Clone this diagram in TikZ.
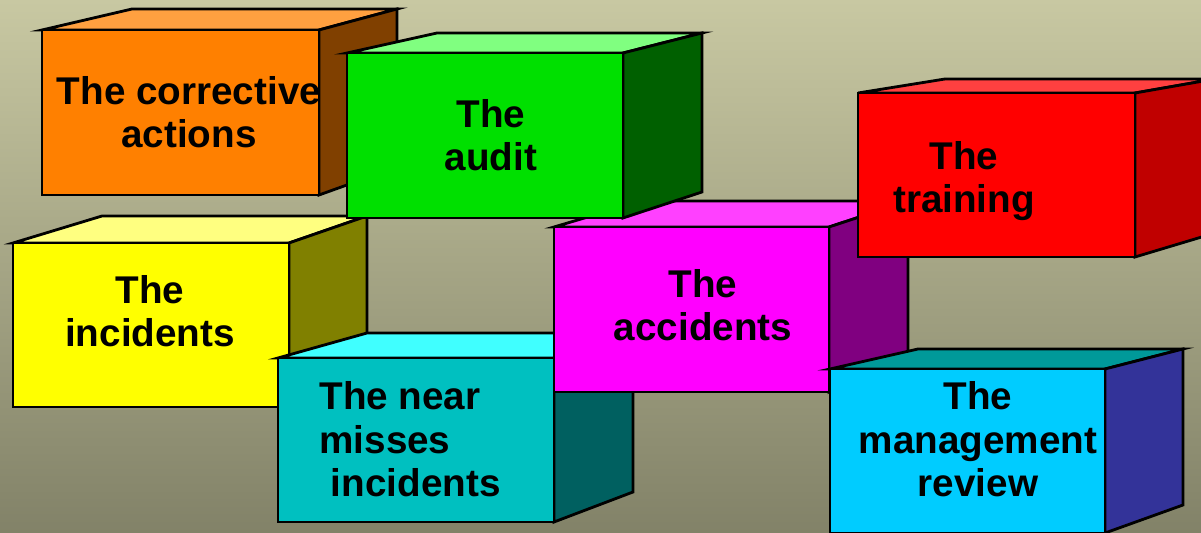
\documentclass[tikz,border=0pt]{standalone}
\usepackage{fontspec}
\setmainfont{Liberation Sans}
\definecolor{bgtop}{RGB}{200,200,162}
\definecolor{bgbot}{RGB}{130,130,104}
\definecolor{orngfront}{RGB}{255,128,0}
\definecolor{orngtop}{RGB}{255,160,64}
\definecolor{orngside}{RGB}{128,64,0}
\definecolor{grnfront}{RGB}{0,224,0}
\definecolor{grntop}{RGB}{128,255,128}
\definecolor{grnside}{RGB}{0,96,0}
\definecolor{redfront}{RGB}{255,0,0}
\definecolor{redtop}{RGB}{255,64,64}
\definecolor{redside}{RGB}{192,0,0}
\definecolor{ylwfront}{RGB}{255,255,0}
\definecolor{ylwtop}{RGB}{255,255,128}
\definecolor{ylwside}{RGB}{128,128,0}
\definecolor{cyfront}{RGB}{0,192,192}
\definecolor{cytop}{RGB}{64,255,255}
\definecolor{cyside}{RGB}{0,96,96}
\definecolor{magfront}{RGB}{255,0,255}
\definecolor{magtop}{RGB}{255,64,255}
\definecolor{magside}{RGB}{128,0,128}
\definecolor{skyfront}{RGB}{0,204,255}
\definecolor{skytop}{RGB}{0,153,153}
\definecolor{skyside}{RGB}{51,51,153}
\begin{document}
\begin{tikzpicture}[
    x=0.02cm, y=-0.02cm,
    face/.style={draw=black, line width=1.6pt},
    lbl/.style={font=\fontsize{22}{25}\selectfont\bfseries, align=center, anchor=base, inner sep=0pt},
]
\useasboundingbox (0,0) rectangle (1201,533);
\clip (0,0) rectangle (1201,533);
\shade[top color=bgtop, bottom color=bgbot] (0,0) rectangle (1201,533);
% corrective actions
\filldraw[face, fill=orngtop] (42,30) -- (132,9) -- (397,9) -- (319,30) -- cycle;
\filldraw[face, fill=orngside] (319,30) -- (397,9) -- (397,167) -- (319,195) -- cycle;
\filldraw[face, fill=orngfront] (42,30) rectangle (319,195);
\node[lbl] (corr) at (189,148) {The corrective\\actions};
% incidents
\filldraw[face, fill=ylwtop] (13,243) -- (102,216) -- (367,216) -- (289,243) -- cycle;
\filldraw[face, fill=ylwside] (289,243) -- (367,216) -- (367,383) -- (289,407) -- cycle;
\filldraw[face, fill=ylwfront] (13,243) rectangle (289,407);
\node[lbl] (incid) at (150,347) {The\\incidents};
% near misses
\filldraw[face, fill=cytop] (278,358) -- (367,333) -- (633,333) -- (554,358) -- cycle;
\filldraw[face, fill=cyside] (554,358) -- (633,333) -- (633,492) -- (554,522) -- cycle;
\filldraw[face, fill=cyfront] (278,358) rectangle (554,522);
\node[lbl, align=left] (near) at (410,497) {The near\\misses\\\hspace*{0.23cm}incidents};
% accidents
\filldraw[face, fill=magtop] (554,227) -- (642,201) -- (908,201) -- (829,227) -- cycle;
\filldraw[face, fill=magside] (829,227) -- (908,201) -- (908,360) -- (829,392) -- cycle;
\filldraw[face, fill=magfront] (554,227) rectangle (829,392);
\node[lbl] (accid) at (703,341) {The\\accidents};
% audit
\filldraw[face, fill=grntop] (347,53) -- (437,33) -- (702,33) -- (623,53) -- cycle;
\filldraw[face, fill=grnside] (623,53) -- (702,33) -- (702,192) -- (623,218) -- cycle;
\filldraw[face, fill=grnfront] (347,53) rectangle (623,218);
\node[lbl] (audit) at (491,171) {The\\audit};
% training
\filldraw[face, fill=redtop] (858,93) -- (945,79) -- (1215,79) -- (1135,93) -- cycle;
\filldraw[face, fill=redside] (1135,93) -- (1215,79) -- (1215,233) -- (1135,257) -- cycle;
\filldraw[face, fill=redfront] (858,93) rectangle (1135,257);
\node[lbl] (train) at (964,213) {The\\training};
% management review
\filldraw[face, fill=skytop] (830,369) -- (918,349) -- (1183,349) -- (1105,369) -- cycle;
\filldraw[face, fill=skyside] (1105,369) -- (1183,349) -- (1183,505) -- (1105,533) -- cycle;
\filldraw[face, fill=skyfront] (830,369) rectangle (1105,533);
\node[lbl] (mgmt) at (978,497) {The\\management\\review};
\end{tikzpicture}
\end{document}
